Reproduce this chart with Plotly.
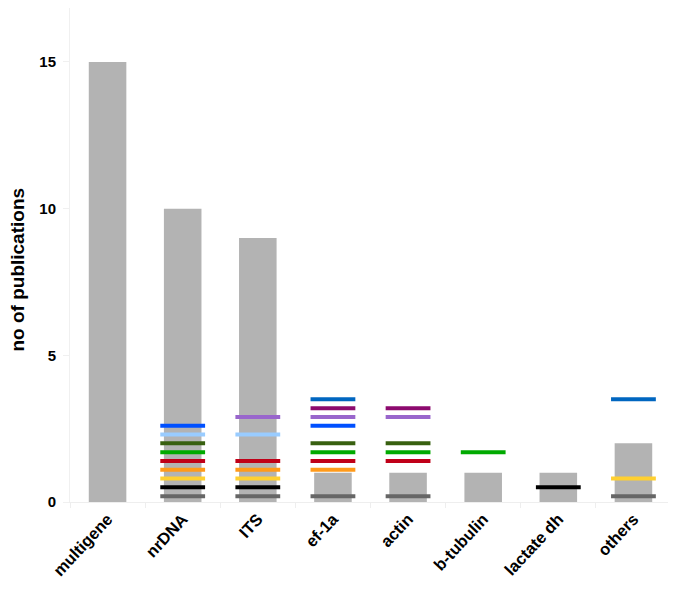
import plotly.graph_objects as go

categories = ["multigene", "nrDNA", "ITS", "ef-1a", "actin", "b-tubulin", "lactate dh", "others"]
publications = [15, 10, 9, 1, 1, 1, 1, 2]
y_ticks = [0, 5, 10, 15]
y_title = "no of publications"

# colored dash markers: (color, categories, y values)
marker_series = [
    ("#666666", ["nrDNA", "ITS", "ef-1a", "actin", "others"], [0.2, 0.2, 0.2, 0.2, 0.2]),
    ("#000000", ["nrDNA", "ITS", "lactate dh"], [0.5, 0.5, 0.5]),
    ("#ffd030", ["nrDNA", "ITS", "others"], [0.8, 0.8, 0.8]),
    ("#ff9a1a", ["nrDNA", "ITS", "ef-1a"], [1.1, 1.1, 1.1]),
    ("#c00018", ["nrDNA", "ITS", "ef-1a", "actin"], [1.4, 1.4, 1.4, 1.4]),
    ("#00aa00", ["nrDNA", "ef-1a", "actin", "b-tubulin"], [1.7, 1.7, 1.7, 1.7]),
    ("#386010", ["nrDNA", "ef-1a", "actin"], [2.0, 2.0, 2.0]),
    ("#99ccff", ["nrDNA", "ITS"], [2.3, 2.3]),
    ("#0050ff", ["nrDNA", "ef-1a"], [2.6, 2.6]),
    ("#9966cc", ["ITS", "ef-1a", "actin"], [2.9, 2.9, 2.9]),
    ("#8c0a6e", ["ef-1a", "actin"], [3.2, 3.2]),
    ("#0066c0", ["ef-1a", "others"], [3.5, 3.5]),
]

fig = go.Figure()
fig.add_trace(go.Bar(x=categories, y=publications, width=0.5,
                     marker=dict(color="#b3b3b3", line=dict(width=0)),
                     showlegend=False, hoverinfo="x+y"))
for color, xs, ys in marker_series:
    fig.add_trace(go.Scatter(x=xs, y=ys, mode="markers", showlegend=False,
                             marker=dict(symbol="line-ew", size=32, color=color,
                                         line=dict(color=color, width=4))))

font = "Liberation Sans, Arial, sans-serif"
fig.update_layout(
    width=664, height=572,
    margin=dict(l=62, r=1, t=0, b=78, autoexpand=False),
    plot_bgcolor="white", paper_bgcolor="white",
    xaxis=dict(range=[-0.5, 7.5], tickangle=-47, showgrid=False,
               tickfont=dict(family=font, size=16.5, color="black", weight="bold"),
               showline=True, linecolor="#eeeeee", linewidth=1,
               ticks="outside", tickson="boundaries", ticklen=5, tickcolor="#eeeeee",
               automargin=False, fixedrange=True),
    yaxis=dict(range=[0, 16.84], tickvals=y_ticks, showgrid=False, zeroline=False,
               tickfont=dict(family=font, size=15, color="black", weight="bold"),
               showline=True, linecolor="#f0f0f0", linewidth=1,
               ticks="outside", ticklen=6, tickcolor="#f0f0f0",
               ticklabelstandoff=4, automargin=False),
    annotations=[dict(text=y_title, textangle=-90, xref="paper", yref="paper",
                      x=-0.087, y=0.47, xanchor="center", yanchor="middle",
                      showarrow=False,
                      font=dict(family=font, size=19, color="black", weight="bold"))],
)
fig.write_html("out.html")
